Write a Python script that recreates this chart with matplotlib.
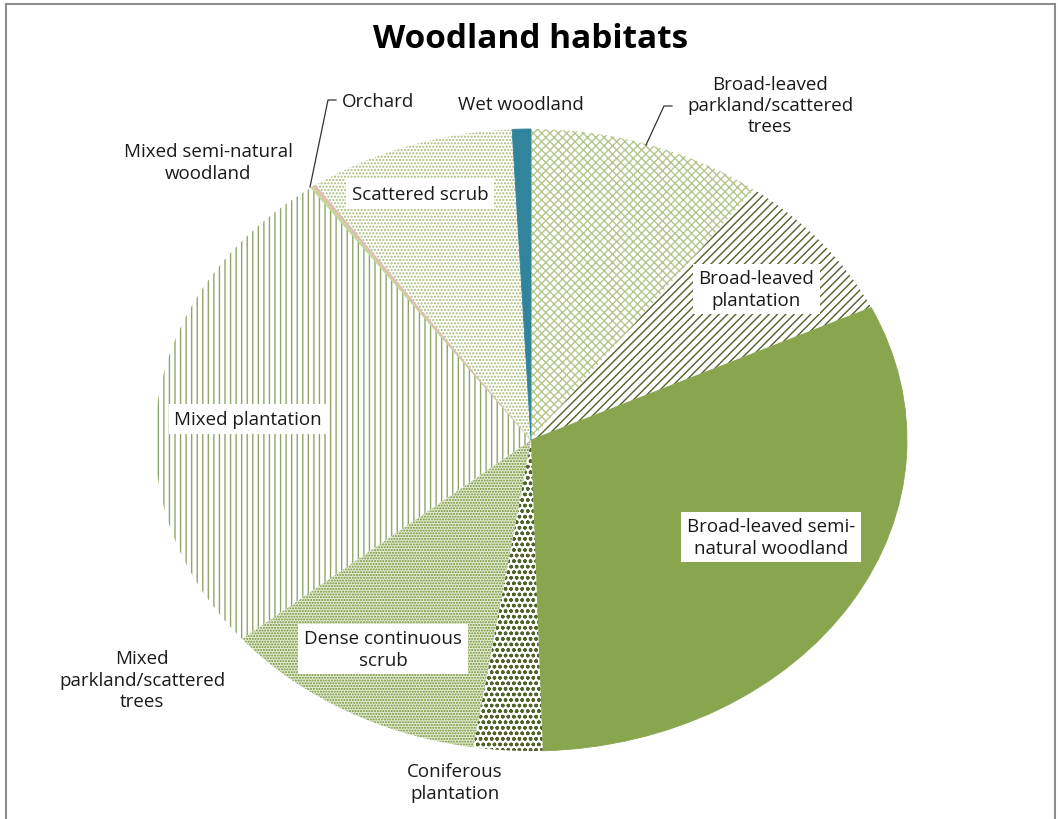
import matplotlib
matplotlib.use('Agg')
import matplotlib.pyplot as plt
from matplotlib.lines import Line2D
from matplotlib.patches import Rectangle

plt.rcParams['font.family'] = ['Open Sans', 'DejaVu Sans']
plt.rcParams['hatch.linewidth'] = 1.0

# Data (shares of woodland area, %)
habitats = ['Broad-leaved parkland/scattered trees', 'Broad-leaved plantation',
            'Broad-leaved semi-natural woodland', 'Coniferous plantation',
            'Dense continuous scrub', 'Mixed parkland/scattered trees',
            'Mixed plantation', 'Mixed semi-natural woodland', 'Orchard',
            'Scattered scrub', 'Wet woodland']
shares = [10.1, 7.9, 31.5, 2.95, 11.4, 0.1, 26.1, 0.15, 0.1, 8.9, 0.8]
label_text = ['Broad-leaved\nparkland/scattered\ntrees', 'Broad-leaved\nplantation',
              'Broad-leaved semi-\nnatural woodland', 'Coniferous\nplantation',
              'Dense continuous\nscrub', 'Mixed\nparkland/scattered\ntrees',
              'Mixed plantation', 'Mixed semi-natural\nwoodland', 'Orchard',
              'Scattered scrub', 'Wet woodland']

# Styles: face colour, hatch colour, hatch
faces = ['white', 'white', '#89a54e', 'white', '#e4ecd4', '#e4ecd4',
         'white', '#c3d69b', '#e6b9b8', 'white', '#31849b']
hatch_cols = ['#b3c78c', '#4f6228', '#89a54e', '#4f6228', '#6f8f32', '#6f8f32',
              '#8fa66a', '#c3d69b', '#e6b9b8', '#a3ba74', '#31849b']
hatches = ['xxxx', '////', None, 'ooo', '......', '......', '|||', None, None,
           '.....', None]

# label placement (pixel centres) and whether boxed
label_px = [(770, 106), (756, 290), (771, 538), (455, 783), (383, 650), (142, 681),
            (248, 420), (208, 163), (378, 102), (420, 195), (521, 105)]
boxed = [False, True, True, False, True, False, True, False, False, True, False]

W, H = 1058, 820
fig = plt.figure(figsize=(W / 100, H / 100), dpi=100)
ax = fig.add_axes([0, 0, 1, 1])

# pie centre at (531, 441) px, radii 376 x 311 px
cx, cy, rx, ry = 531, 441, 376, 311

wedges, _ = ax.pie(shares, startangle=90, counterclock=False,
                   wedgeprops=dict(linewidth=0))
for w, fc, hc, h in zip(wedges, faces, hatch_cols, hatches):
    w.set_facecolor(fc)
    w.set_edgecolor(hc)
    w.set_linewidth(0.6 if h is None else 0)
    if h:
        w.set_hatch(h)

ax.set_aspect('auto')
ax.set_xlim(-cx / rx, (W - cx) / rx)
ax.set_ylim((cy - H) / ry, cy / ry)
ax.axis('off')


def fxy(px, py):
    return px / W, 1 - py / H


for txt, (px, py), b in zip(label_text, label_px, boxed):
    kw = {}
    if b:
        kw['bbox'] = dict(boxstyle='square,pad=0.3', fc='white', ec='none')
    fig.text(*fxy(px, py), txt, ha='center', va='center', fontsize=13.5,
             color='#1a1a1a', linespacing=1.25, **kw)

# leader lines
for pts in ([(646, 146), (664, 107), (672, 107)],
            [(310, 188), (328, 101), (336, 101)]):
    xs = [fxy(*p)[0] for p in pts]
    ys = [fxy(*p)[1] for p in pts]
    fig.add_artist(Line2D(xs, ys, color='#333333', lw=0.9))

fig.text(*fxy(531, 40), 'Woodland habitats', ha='center', va='center',
         fontsize=24, fontweight='bold', color='black')

# outer chart border
fig.add_artist(Rectangle(fxy(6, 830), (1055 - 6) / W, (830 - 5) / H,
                         transform=fig.transFigure, fill=False,
                         ec='#8c8c8c', lw=1.5))

fig.savefig('out.png', dpi=100)
